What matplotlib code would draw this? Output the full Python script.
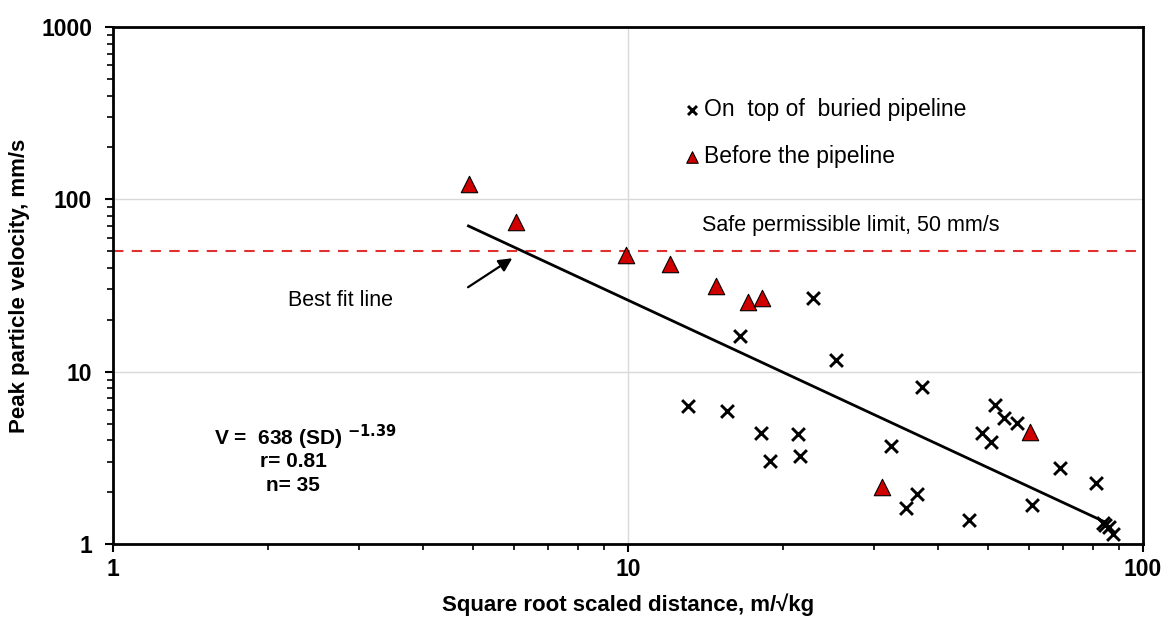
import matplotlib
matplotlib.use("Agg")
import matplotlib.pyplot as plt
import matplotlib.ticker as ticker
import numpy as np

plt.rcParams['font.family'] = ['Liberation Sans', 'DejaVu Sans']

# on top of buried pipeline (crosses)
top_sd = [22.9, 16.5, 25.3, 37.2, 13.1, 15.6, 18.1, 21.4, 18.9, 21.6, 32.4, 36.4, 34.7, 45.9,
          51.6, 53.7, 56.9, 48.7, 50.7, 69.0, 81.1, 60.9, 84.4, 83.5, 85.9, 87.5]
top_ppv = [26.7, 16.1, 11.7, 8.2, 6.3, 5.9, 4.4, 4.35, 3.03, 3.24, 3.7, 1.95, 1.62, 1.38,
           6.4, 5.38, 5.03, 4.4, 3.9, 2.76, 2.26, 1.68, 1.29, 1.32, 1.25, 1.14]

# before the pipeline (triangles)
bef_sd = [4.91, 6.06, 9.91, 12.06, 14.8, 17.1, 18.2, 60.4, 31.1]
bef_ppv = [122, 73.6, 47.4, 42, 31.3, 25.3, 26.7, 4.46, 2.14]

# best fit V = 638 (SD)^-1.39
fit_a = 638
fit_b = -1.39
fit_range = [4.9, 85.0]
limit = 50

fig = plt.figure(figsize=(11.74, 6.21), dpi=100)
ax = fig.add_axes([0.0963, 0.124, 0.8773, 0.8325])

ax.set_xscale('log')
ax.set_yscale('log')
ax.set_xlim(1, 100)
ax.set_ylim(1, 1000)

ax.grid(True, which='major', color='#d9d9d9', linewidth=1)
ax.set_axisbelow(True)

ax.axhline(limit, color='#e03030', linestyle=(0, (5, 4)), linewidth=1.5, zorder=2)

sd = np.array(fit_range)
ax.plot(sd, fit_a * sd ** fit_b, color='black', linewidth=2, zorder=3)

ax.scatter(top_sd, top_ppv, marker='x', s=85, color='black', linewidths=2.1,
           zorder=4, label='On  top of  buried pipeline')
ax.scatter(bef_sd, bef_ppv, marker='^', s=140, color='#d00000', edgecolors='black',
           linewidths=0.8, zorder=5, label='Before the pipeline')

leg = ax.legend(loc='upper left', bbox_to_anchor=(0.534, 0.902), frameon=False,
                fontsize=16.5, handletextpad=0.2, labelspacing=1.05, markerscale=0.7,
                handlelength=0.7, borderpad=0.4)

ax.text(0.572, 0.617, 'Safe permissible limit, 50 mm/s', transform=ax.transAxes,
        fontsize=15.5, va='center', ha='left')

# best fit label and arrow
ax.text(2.76, 26.0, 'Best fit line', fontsize=15.5, ha='center', va='center')
ax.annotate('', xy=(5.96, 45.5), xytext=(4.89, 30.9),
            arrowprops=dict(arrowstyle='-|>', color='black', lw=1.6, mutation_scale=20,
                            shrinkA=0, shrinkB=0))

ax.text(0.187, 0.207, r'V =  638 (SD) $^{\mathbf{-1.39}}$', transform=ax.transAxes,
        fontsize=15, fontweight='bold', ha='center', va='center')
ax.text(0.175, 0.159, 'r= 0.81', transform=ax.transAxes,
        fontsize=15, fontweight='bold', ha='center', va='center')
ax.text(0.175, 0.114, 'n= 35', transform=ax.transAxes,
        fontsize=15, fontweight='bold', ha='center', va='center')

ax.xaxis.set_major_formatter(ticker.FuncFormatter(lambda v, p: '%g' % v))
ax.yaxis.set_major_formatter(ticker.FuncFormatter(lambda v, p: '%g' % v))
ax.xaxis.set_minor_formatter(ticker.NullFormatter())
ax.yaxis.set_minor_formatter(ticker.NullFormatter())
ax.tick_params(which='major', direction='out', length=6, width=1.5, labelsize=16.5)
ax.tick_params(which='minor', direction='out', length=4, width=1.2)
ax.tick_params(axis='x', which='major', pad=4)
ax.tick_params(axis='y', which='major', pad=9)
for lab in ax.get_xticklabels() + ax.get_yticklabels():
    lab.set_fontweight('bold')
for s in ax.spines.values():
    s.set_linewidth(2)

ax.set_xlabel('Square root scaled distance, m/\u221akg', fontsize=16, fontweight='bold', labelpad=9)
ax.set_ylabel('Peak particle velocity, mm/s', fontsize=16, fontweight='bold', labelpad=8)

fig.savefig('out.png', dpi=100)
